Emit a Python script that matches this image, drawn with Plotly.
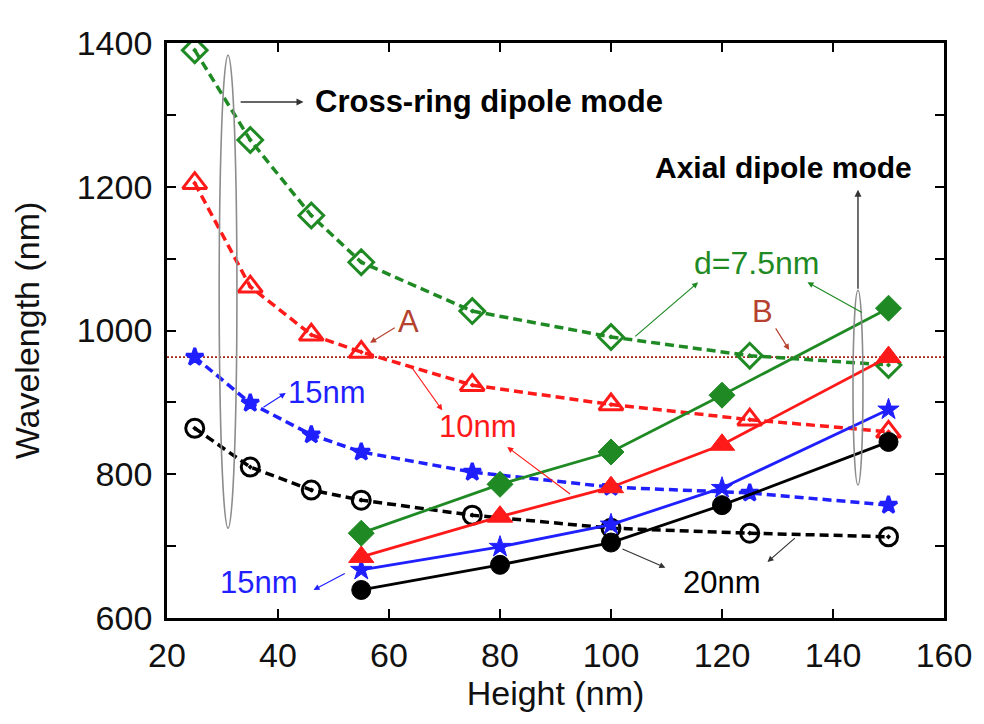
import plotly.graph_objects as go

# ---- data ----
h_dash = [25, 35, 46, 55, 75, 100, 125, 150]
green_dash = [1390, 1265, 1160, 1095, 1027, 991, 965, 952]
red_dash = [1205, 1061, 994, 970, 924, 897, 876, 859]
blue_dash = [963, 899, 855, 831, 803, 782, 774, 757]
black_dash = [864, 810, 778, 764, 743, 725, 718, 713]

h_solid = [55, 80, 100, 120, 150]
green_solid = [718, 786, 831, 910, 1031]
red_solid = [685, 741, 782, 841, 963]
blue_solid = [667, 699, 730, 781, 890]
black_solid = [639, 674, 705, 757, 845]

ref_level = 963
x_ticks = [20, 40, 60, 80, 100, 120, 140, 160]
y_ticks = [600, 700, 800, 900, 1000, 1100, 1200, 1300, 1400]
y_ticklabels = ["600", "", "800", "", "1000", "", "1200", "", "1400"]

GREEN = "#1f8a24"
RED = "#ff1a1a"
BLUE = "#1f1fff"
BLACK = "#000000"
BROWN = "#b5412e"
FONT = "Liberation Sans, Arial, sans-serif"

fig = go.Figure()

# reference dotted line
fig.add_trace(go.Scatter(x=[x_ticks[0], x_ticks[-1]], y=[ref_level, ref_level], mode="lines",
                         line=dict(color="#a02418", width=1.6, dash="2px,2px"), hoverinfo="skip"))

dash_series = [
    (green_dash, GREEN, "diamond-open-dot", 19),
    (red_dash, RED, "triangle-up-open-dot", 21),
    (blue_dash, BLUE, "star", 13),
    (black_dash, BLACK, "circle-open-dot", 18),
]
for ys, col, sym, sz in dash_series:
    fig.add_trace(go.Scatter(x=h_dash, y=ys, mode="lines+markers",
                             line=dict(color=col, width=3.5, dash="9px,5px"),
                             marker=dict(symbol=sym, size=sz, color=col,
                                         line=dict(color=col, width=3))))

solid_series = [
    (black_solid, BLACK, "circle", 19),
    (blue_solid, BLUE, "star", 16),
    (red_solid, RED, "triangle-up", 22),
    (green_solid, GREEN, "diamond", 20),
]
for ys, col, sym, sz in solid_series:
    fig.add_trace(go.Scatter(x=h_solid, y=ys, mode="lines+markers",
                             line=dict(color=col, width=2.8),
                             marker=dict(symbol=sym, size=sz, color=col,
                                         line=dict(color=col, width=1))))

# gray ellipses
fig.add_shape(type="circle", xref="x", yref="y", x0=29.4, x1=32.6, y0=725, y1=1383,
              line=dict(color="#8c8c8c", width=1.6))
fig.add_shape(type="circle", xref="x", yref="y", x0=143.6, x1=145.4, y0=785, y1=1056,
              line=dict(color="#8c8c8c", width=1.6))


def text(x, y, s, color, size, bold=False, xanchor="center"):
    fig.add_annotation(x=x, y=y, xref="x", yref="y", text=f"<b>{s}</b>" if bold else s,
                       showarrow=False, xanchor=xanchor, yanchor="middle",
                       font=dict(family=FONT, size=size, color=color))


def arrow(xh, yh, xt, yt, color, width=1.2, head=2, hsize=1.0):
    fig.add_annotation(x=xh, y=yh, ax=xt, ay=yt, xref="x", yref="y", axref="x", ayref="y",
                       text="", showarrow=True, arrowhead=head, arrowsize=hsize,
                       arrowwidth=width, arrowcolor=color)


text(46.3, 1319, "Cross-ring dipole mode", BLACK, 31, bold=True, xanchor="left")
arrow(44.6, 1318, 33.0, 1318, "#333333", 1.4)
text(131.1, 1227, "Axial dipole mode", BLACK, 30, bold=True)
arrow(144.5, 1196, 144.5, 1056, "#333333", 1.4)

text(126.3, 1094, "d=7.5nm", GREEN, 32)
arrow(115.7, 1067, 104.1, 990, GREEN, 1.2)
arrow(135.4, 1067, 145.5, 1024, GREEN, 1.2)

text(63.6, 1013, "A", BROWN, 31)
arrow(56.6, 983, 61.3, 1005, BROWN, 1.2)
text(127.3, 1026, "B", BROWN, 31)
arrow(132.1, 973, 129.5, 1005, BROWN, 1.2)

text(48.8, 914, "15nm", BLUE, 31)
arrow(41.4, 913, 37.1, 892, BLUE, 1.2)
text(76.1, 866, "10nm", RED, 31)
arrow(69.6, 889, 63.8, 952, RED, 1.2)
arrow(81.3, 838, 92.9, 771, RED, 1.2)
text(36.6, 650, "15nm", BLUE, 31)
arrow(46.4, 639, 52.3, 663, BLUE, 1.2)
text(120.0, 650, "20nm", BLACK, 31)
arrow(109.8, 670, 101.8, 697, "#333333", 1.2)
arrow(128.2, 678, 133.4, 713, "#333333", 1.2)

axis_common = dict(showgrid=False, zeroline=False, showline=True, linecolor="black", linewidth=2.8,
                   mirror="ticks", ticks="inside", ticklen=9, tickwidth=2, tickcolor="black",
                   tickfont=dict(family=FONT, size=34, color="#111111"))

fig.update_xaxes(range=[20, 160], tickvals=x_ticks, ticktext=[str(v) for v in x_ticks],
                 ticklabelstandoff=5,
                 title=dict(text="Height (nm)", font=dict(family=FONT, size=34, color="#111111"),
                            standoff=6),
                 **axis_common)
fig.update_yaxes(range=[600, 1400], tickvals=y_ticks, ticktext=y_ticklabels,
                 ticklabelstandoff=5,
                 title=dict(text="Wavelength (nm)", font=dict(family=FONT, size=34, color="#111111"),
                            standoff=27),
                 **axis_common)

fig.update_layout(width=984, height=724, margin=dict(l=167, r=33, t=43, b=106),
                  plot_bgcolor="white", paper_bgcolor="white", showlegend=False)

fig.write_html("out.html")
